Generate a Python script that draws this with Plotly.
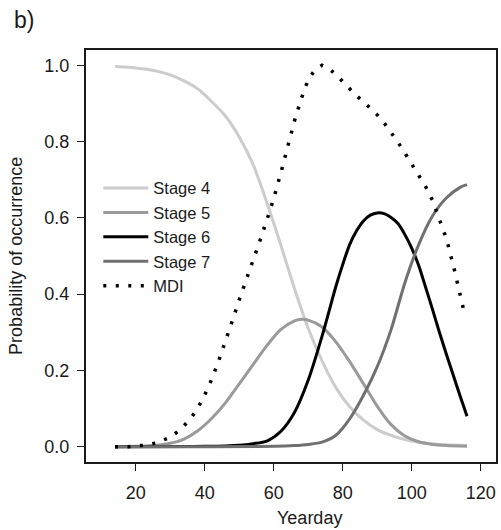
import plotly.graph_objects as go

# ---- data ----
stage4_x = [14, 18, 22, 26, 30, 34, 38, 42, 46, 50, 54, 58, 62, 66, 70, 74, 78, 82, 86, 90, 94, 98, 102, 106, 110, 116]
stage4_y = [0.997, 0.995, 0.991, 0.985, 0.975, 0.959, 0.938, 0.905, 0.867, 0.812, 0.74, 0.64, 0.53, 0.415, 0.31,
            0.225, 0.155, 0.105, 0.07, 0.045, 0.03, 0.019, 0.012, 0.008, 0.005, 0.003]

stage5_x = [14, 20, 26, 30, 34, 38, 42, 46, 50, 54, 58, 62, 66, 68, 70, 74, 78, 82, 86, 90, 94, 98, 102, 106, 110, 116]
stage5_y = [0.0, 0.001, 0.004, 0.009, 0.02, 0.042, 0.074, 0.115, 0.165, 0.215, 0.265, 0.307, 0.330, 0.334, 0.332,
            0.314, 0.275, 0.223, 0.165, 0.106, 0.058, 0.028, 0.013, 0.006, 0.003, 0.001]

stage6_x = [14, 40, 50, 54, 58, 62, 66, 70, 74, 78, 80, 82, 84, 86, 88, 90, 92, 94, 96, 98, 100, 102,
            104, 106, 108, 110, 112, 114, 116]
stage6_y = [0.0, 0.001, 0.004, 0.008, 0.015, 0.04, 0.09, 0.175, 0.29, 0.42, 0.478, 0.53, 0.566, 0.592, 0.607,
            0.613, 0.611, 0.601, 0.585, 0.556, 0.52, 0.475, 0.418, 0.36, 0.30, 0.243, 0.188, 0.133, 0.08]

stage7_x = [14, 60, 66, 70, 74, 78, 82, 86, 90, 94, 98, 102, 106, 110, 114, 116]
stage7_y = [0.0, 0.001, 0.003, 0.006, 0.012, 0.03, 0.073, 0.135, 0.21, 0.307, 0.43, 0.53, 0.605, 0.652, 0.68, 0.687]

mdi_x = [14, 18, 22, 26, 30, 33, 36, 38, 40, 42, 44, 46, 48, 50, 52, 54, 56, 58, 60, 62, 64, 66, 68, 70, 72, 74,
         76, 78, 80, 82, 84, 86, 88, 90, 92, 94, 96, 98, 100, 102, 104, 106, 108, 110, 112, 114, 115.5]
mdi_y = [0.0, 0.0, 0.004, 0.010, 0.025, 0.045, 0.075, 0.101, 0.136, 0.176, 0.224, 0.275, 0.330, 0.385, 0.436,
         0.485, 0.540, 0.594, 0.651, 0.716, 0.785, 0.854, 0.913, 0.963, 0.988, 1.0,
         0.991, 0.976, 0.957, 0.938, 0.920, 0.904, 0.888, 0.870, 0.849, 0.825, 0.798, 0.770, 0.741, 0.712,
         0.682, 0.646, 0.599, 0.546, 0.477, 0.395, 0.340]

x_ticks = [20, 40, 60, 80, 100, 120]
y_ticks = [0.0, 0.2, 0.4, 0.6, 0.8, 1.0]
y_tick_labels = ["0.0", "0.2", "0.4", "0.6", "0.8", "1.0"]

FONT = "Arial, 'Liberation Sans', sans-serif"
FS = 18

fig = go.Figure()
series = [
    ("Stage 4", stage4_x, stage4_y, "#cccccc"),
    ("Stage 5", stage5_x, stage5_y, "#9a9a9a"),
    ("Stage 6", stage6_x, stage6_y, "#000000"),
    ("Stage 7", stage7_x, stage7_y, "#707070"),
]
for name, xs, ys, col in series:
    fig.add_trace(go.Scatter(x=xs, y=ys, mode="lines", name=name,
                             line=dict(color=col, width=3, shape="spline", smoothing=0.8)))
fig.add_trace(go.Scatter(x=mdi_x, y=mdi_y, mode="lines", name="MDI",
                         line=dict(color="#000000", width=3.5, dash="3px,9.5px")))

axis_common = dict(showgrid=False, zeroline=False, showline=True, mirror=True,
                   linecolor="#1a1a1a", linewidth=2, ticks="outside", ticklen=7,
                   tickwidth=1, tickcolor="#1a1a1a",
                   tickfont=dict(family=FONT, size=FS, color="#1a1a1a"))

fig.update_layout(
    width=501, height=530,
    margin=dict(l=86, r=3, t=50, b=68),
    plot_bgcolor="white", paper_bgcolor="white",
    font=dict(family=FONT, size=FS, color="#1a1a1a"),
    xaxis=dict(range=[5.6, 124.4], tickvals=x_ticks, ticklabelstandoff=6, **axis_common),
    yaxis=dict(range=[-0.04, 1.04], tickvals=y_ticks, ticktext=y_tick_labels,
               ticklabelstandoff=4, **axis_common),
    showlegend=True,
    legend=dict(x=0.03, y=0.707, xanchor="left", yanchor="top", itemwidth=45,
                bgcolor="rgba(0,0,0,0)", font=dict(family=FONT, size=16.5, color="#1a1a1a"),
                tracegroupgap=0),
    annotations=[
        dict(text="Probability of occurrence", xref="paper", yref="paper",
             x=-0.171, y=0.5, xanchor="center", yanchor="middle", textangle=-90,
             showarrow=False, font=dict(family=FONT, size=FS, color="#1a1a1a")),
        dict(text="Yearday", xref="paper", yref="paper",
             x=0.544, y=-0.136, xanchor="center", yanchor="middle",
             showarrow=False, font=dict(family=FONT, size=FS, color="#1a1a1a")),
        dict(text="b)", xref="paper", yref="paper",
             x=-0.18, y=1.072, xanchor="left", yanchor="middle",
             showarrow=False, font=dict(family=FONT, size=23, color="#1a1a1a")),
    ],
)

fig.write_html("out.html", config={"displayModeBar": False},
               post_script="document.body.style.margin='0px';")
